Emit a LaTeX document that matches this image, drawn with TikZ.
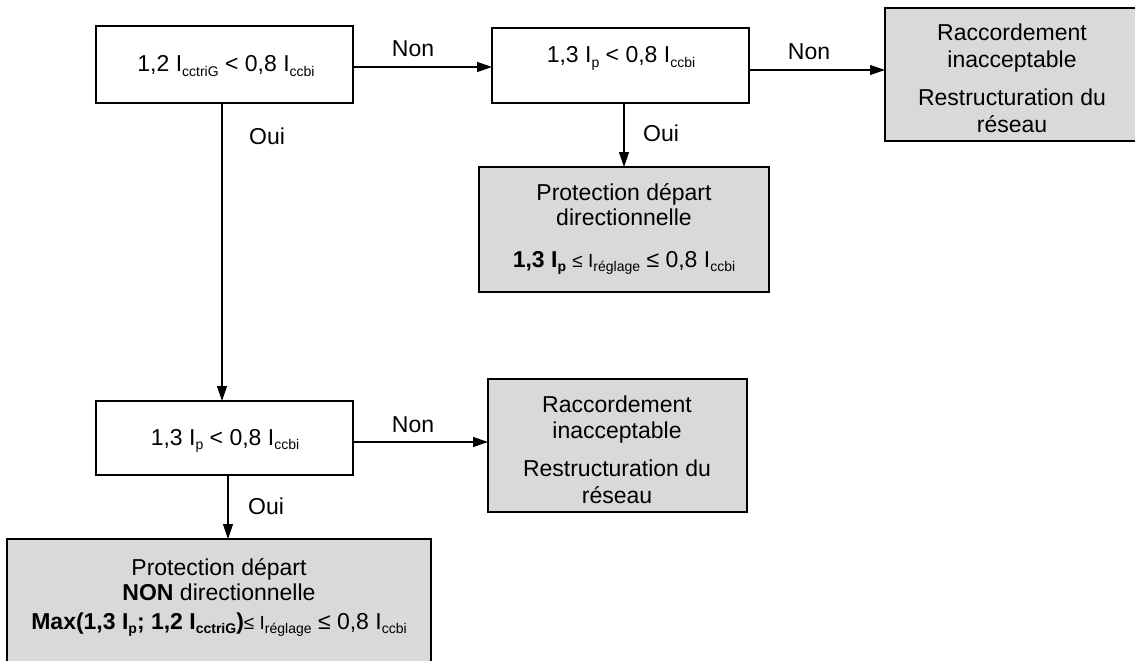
\documentclass[tikz,border=0pt]{standalone}
\usepackage{fontspec}
\setmainfont{Liberation Sans}
\usetikzlibrary{arrows.meta,calc}
\definecolor{boxgray}{RGB}{217,217,217}
\newcommand\lsub[1]{\raisebox{-4.5pt}{\fontsize{14}{14}\selectfont #1}}
\newcommand\bsub[1]{\raisebox{-4.5pt}{\fontsize{14}{14}\selectfont\bfseries #1}}
\newcommand\sle{{\fontsize{19}{19}\selectfont ≤ I}}
\begin{document}
\begin{tikzpicture}[x=1pt,y=-1pt,
  box/.style={draw=black, line width=1.2pt, inner sep=0pt, outer sep=0pt, rectangle},
  graybox/.style={box, fill=boxgray},
  lbl/.style={font=\fontsize{23}{26}\selectfont, inner sep=0pt, anchor=base, text=black},
  conn/.style={line width=1.2pt, -{Triangle[length=15pt,width=10pt]}}]
\useasboundingbox (0,0) rectangle (1135,661);
\fill[white] (0,0) rectangle (1135,661);

% boxes
\node[box, minimum width=257pt, minimum height=77pt] (A) at (224.5,64.5) {};
\node[box, minimum width=257pt, minimum height=75pt] (B) at (620.5,65.5) {};
\node[graybox, minimum width=290pt, minimum height=125pt] (C) at (624,229.5) {};
\node[graybox, minimum width=255pt, minimum height=133pt] (D) at (1012.5,74.5) {};
\node[graybox, minimum width=259pt, minimum height=133pt] (E) at (617.5,445.5) {};
\node[box, minimum width=257pt, minimum height=74pt] (F) at (224.5,438) {};
\node[graybox, minimum width=424pt, minimum height=141pt] (G) at (219,609.5) {};

% box texts
\node[lbl] (a1) at (226,72) {1,2 I\lsub{cctriG} < 0,8 I\lsub{ccbi}};
\node[lbl] (b1) at (621,63) {1,3 I\lsub{p} < 0,8 I\lsub{ccbi}};
\node[lbl] (c1) at (624,200) {Protection départ};
\node[lbl] (c2) at (624,225) {directionnelle};
\node[lbl] (c3) at (624,267) {\textbf{1,3 I\bsub{p}} \sle\lsub{réglage} ≤ 0,8 I\lsub{ccbi}};
\node[lbl] (d1) at (1012,41) {Raccordement};
\node[lbl] (d2) at (1012,67) {inacceptable};
\node[lbl] (d3) at (1012,105) {Restructuration du};
\node[lbl] (d4) at (1012,132) {réseau};
\node[lbl] (e1) at (617,412) {Raccordement};
\node[lbl] (e2) at (617,438) {inacceptable};
\node[lbl] (e3) at (617,476) {Restructuration du};
\node[lbl] (e4) at (617,503) {réseau};
\node[lbl] (f1) at (225,445) {1,3 I\lsub{p} < 0,8 I\lsub{ccbi}};
\node[lbl] (g1) at (219,575) {Protection départ};
\node[lbl] (g2) at (219,600) {\textbf{NON} directionnelle};
\node[lbl] (g3) at (219,629) {\textbf{Max(1,3 I\bsub{p}; 1,2 I\bsub{cctriG})}\sle\lsub{réglage} ≤ 0,8 I\lsub{ccbi}};

% connectors
\draw[conn] ([yshift=-2.5pt]A.east) -- ([yshift=-2.5pt]A.east -| B.west);
\draw[conn] ([yshift=-4.5pt]B.east) -- ([yshift=-4.5pt]B.east -| D.west);
\draw[conn] (C.north |- B.south) -- (C.north);
\draw[conn] ([xshift=-2.5pt]A.south) -- ([xshift=-2.5pt]A.south |- F.north);
\draw[conn] ([yshift=-4pt]F.east) -- ([yshift=-4pt]F.east -| E.west);
\draw[conn] ([xshift=3.5pt]F.south) -- ([xshift=3.5pt]F.south |- G.north);

% connector labels
\node[lbl, anchor=center] (n1) at (413,49) {Non};
\node[lbl, anchor=center] (n2) at (809,52) {Non};
\node[lbl, anchor=center] (o1) at (661,133) {Oui};
\node[lbl, anchor=center] (o2) at (267,136) {Oui};
\node[lbl, anchor=center] (n3) at (413,425) {Non};
\node[lbl, anchor=center] (o3) at (266,506) {Oui};
\end{tikzpicture}
\end{document}
